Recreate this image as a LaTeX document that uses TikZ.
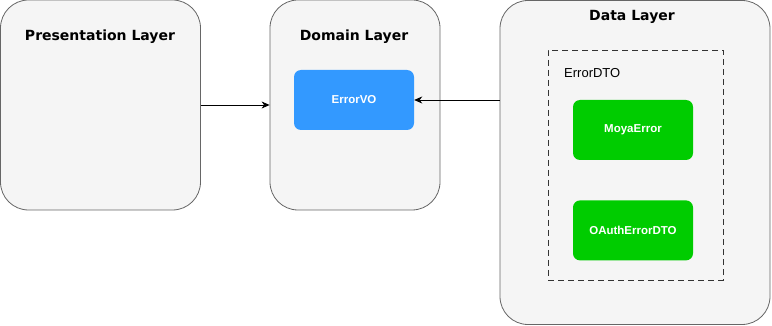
\documentclass[tikz,border=0pt]{standalone}
\usepackage{fontspec}
\setmainfont{Liberation Sans}
\newfontfamily\titlefont{DejaVu Sans}
\usepackage{xcolor}
\usepackage{tikz}
\usetikzlibrary{arrows.meta, positioning, calc}

\definecolor{layerfill}{HTML}{F5F5F5}
\definecolor{layerline}{HTML}{666666}
\definecolor{voblue}{HTML}{3399FF}
\definecolor{dtogreen}{HTML}{00CC00}

\begin{document}
\begin{tikzpicture}[
  x=1pt, y=-1pt,
  layer/.style={rectangle, draw=layerline, fill=layerfill, rounded corners=28pt, line width=0.8pt, inner sep=0pt},
  title/.style={font=\titlefont\fontsize{14}{16}\selectfont\bfseries, inner sep=0pt},
  model/.style={rectangle, rounded corners=7pt, draw=none, text=white, font=\fontsize{11.5}{13}\selectfont\bfseries, minimum width=120pt, minimum height=60pt, inner sep=0pt},
  conn/.style={-{Stealth[length=8pt, width=7pt, inset=2.5pt]}, line width=0.8pt}
]
  \useasboundingbox (0,0) rectangle (772,326);

  % layers
  \node[layer, minimum width=200pt, minimum height=210pt] (pres) at (100.5,105) {};
  \node[layer, minimum width=170pt, minimum height=210pt] (dom) at (355,105) {};
  \node[layer, minimum width=270pt, minimum height=324pt] (data) at (635,162.5) {};

  \node[title] (presT) at (100,37) {Presentation Layer};
  \node[title] (domT) at (354,37) {Domain Layer};
  \node[title] (dataT) at (632,17) {Data Layer};

  % domain model
  \node[model, fill=voblue] (errvo) at (354,100) {ErrorVO};

  % data models
  \node[rectangle, draw=black!80, dashed, dash pattern=on 6pt off 4pt, line width=0.8pt, minimum width=175pt, minimum height=230pt] (dto) at (635.5,165) {};
  \node[anchor=west, font=\fontsize{13}{15}\selectfont, inner sep=0pt] (dtoT) at (564,73) {ErrorDTO};
  \node[model, fill=dtogreen] (moya) at (633,130) {MoyaError};
  \node[model, fill=dtogreen, below=40pt of moya] (oauth) {OAuthErrorDTO};

  \draw[conn] (pres) -- (dom);
  \draw[conn] (data.west |- errvo) -- (errvo);
\end{tikzpicture}
\end{document}
